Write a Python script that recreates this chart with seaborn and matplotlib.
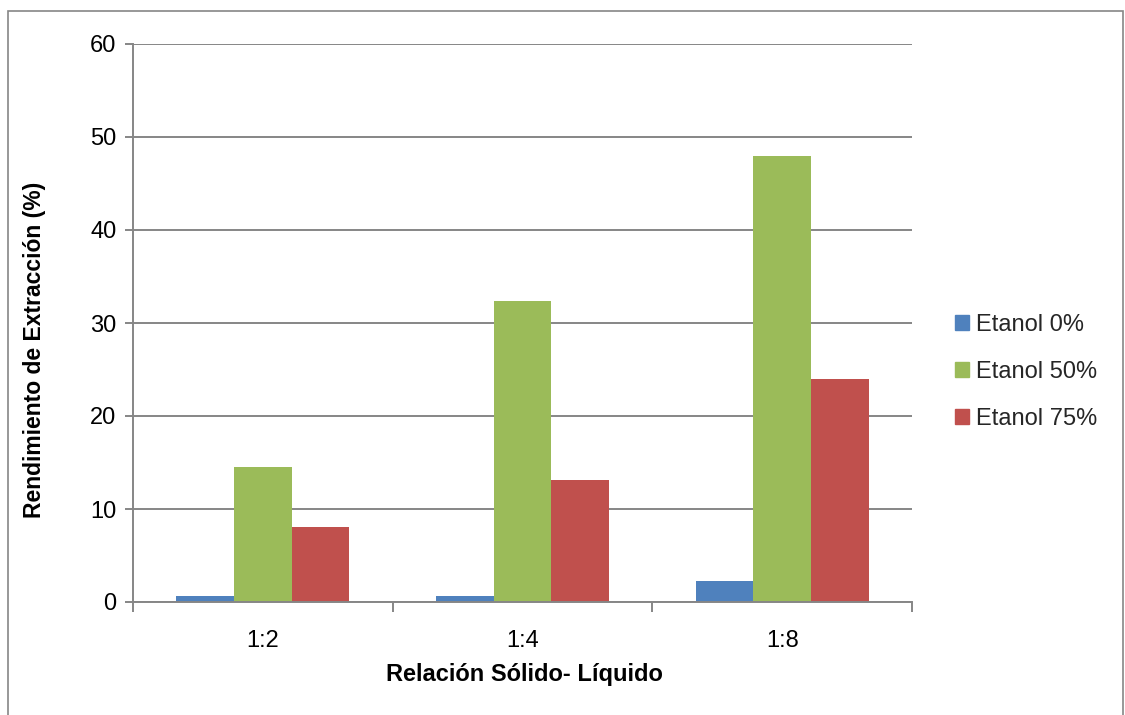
import matplotlib
matplotlib.use("Agg")
import matplotlib.pyplot as plt
import matplotlib.patches as mpatches
import seaborn as sns
import pandas as pd

# Extraction yield (%) by solid-liquid ratio and ethanol concentration
categories = ["1:2", "1:4", "1:8"]
series_names = ["Etanol 0%", "Etanol 50%", "Etanol 75%"]
etanol_0 = [0.6, 0.65, 2.3]
etanol_50 = [14.5, 32.4, 48.0]
etanol_75 = [8.1, 13.1, 24.0]
colors = ["#4F81BD", "#9BBB59", "#C0504D"]

rows = []
for name, vals in zip(series_names, [etanol_0, etanol_50, etanol_75]):
    for cat, v in zip(categories, vals):
        rows.append({"Relacion": cat, "Serie": name, "Rendimiento": v})
df = pd.DataFrame(rows)

sns.set_theme(style="white")
plt.rcParams["font.family"] = ["Liberation Sans", "DejaVu Sans"]

fig = plt.figure(figsize=(11.25, 7.15), dpi=100)
ax = fig.add_axes([133 / 1125, 1 - 602 / 715, (912 - 133) / 1125, (602 - 44) / 715])

sns.barplot(data=df, x="Relacion", y="Rendimiento", hue="Serie",
            order=categories, hue_order=series_names, palette=colors,
            width=0.665, linewidth=0, saturation=1, ax=ax, legend=False)

grid_col = "#868686"
txt = "#000000"
ax.set_ylim(0, 60)
ax.set_xlim(-0.5, 2.5)
ax.set_yticks(range(0, 61, 10))
ax.yaxis.grid(True, color=grid_col, linewidth=1.4)
ax.set_axisbelow(True)
for s in ["top", "right"]:
    ax.spines[s].set_visible(False)
for s in ["left", "bottom"]:
    ax.spines[s].set_color(grid_col)
    ax.spines[s].set_linewidth(1.4)

ax.tick_params(axis="y", which="major", length=6, width=1.4, color=grid_col,
               labelsize=17, pad=6, left=True, labelcolor=txt)
ax.tick_params(axis="x", which="major", length=0, labelsize=17, pad=20,
               labelcolor=txt)
ax.set_xticks([-0.5, 0.5, 1.5, 2.5], minor=True)
ax.tick_params(axis="x", which="minor", length=7, width=1.4, color=grid_col,
               bottom=True)

ax.set_xlabel("Relación Sólido- Líquido", fontsize=17, fontweight="bold", color=txt)
ax.set_ylabel("Rendimiento de Extracción (%)", fontsize=16.5, fontweight="bold", color=txt)
ax.xaxis.set_label_coords((524 - 133) / (912 - 133), -(675 - 602) / (602 - 44))
ax.yaxis.set_label_coords(-(133 - 35) / (912 - 133), (602 - 350) / (602 - 44))
ax.xaxis.label.set_verticalalignment("center")
ax.yaxis.label.set_verticalalignment("center")

handles = [mpatches.Patch(color=c, label=n) for c, n in zip(colors, series_names)]
fig.legend(handles=handles, loc="center left", bbox_to_anchor=(934 / 1125, 1 - 372 / 715),
           frameon=False, handlelength=0.6, handleheight=0.6,
           handletextpad=0.3, labelspacing=1.05, prop={"size": 17})

# outer chart frame
fig.patches.append(mpatches.Rectangle((8 / 1125, -0.01), (1123 - 8) / 1125, 1 - 11 / 715 + 0.01,
                                      transform=fig.transFigure, fill=False,
                                      edgecolor=grid_col, linewidth=1.2))

fig.savefig("out.png", dpi=100)
